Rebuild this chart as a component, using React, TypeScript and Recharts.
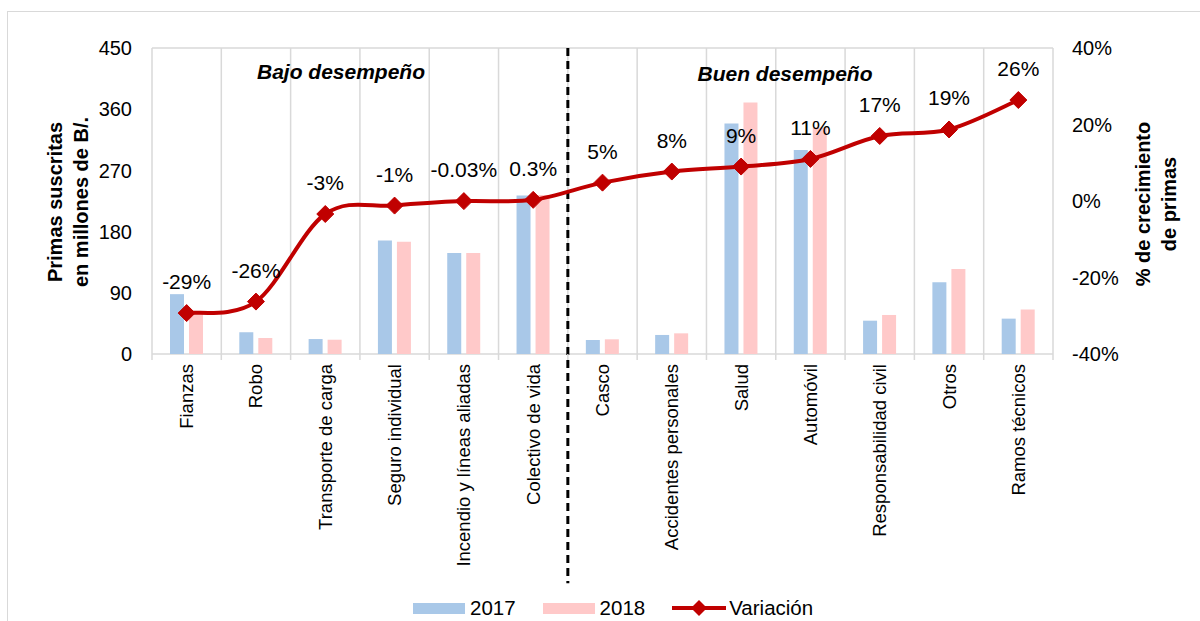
import React from "react";
import {
  ComposedChart,
  Bar,
  Line,
  XAxis,
  YAxis,
  CartesianGrid,
  ReferenceLine,
  LabelList,
} from "recharts";

const categories = [
  "Fianzas",
  "Robo",
  "Transporte de carga",
  "Seguro individual",
  "Incendio y líneas aliadas",
  "Colectivo de vida",
  "Casco",
  "Accidentes personales",
  "Salud",
  "Automóvil",
  "Responsabilidad civil",
  "Otros",
  "Ramos técnicos",
];
const primas2017 = [88, 32, 22, 167, 148.5, 233, 20.6, 28, 339, 300, 49, 105.5, 52];
const primas2018 = [63, 23.5, 21, 165, 148.5, 233.7, 21.6, 30.4, 370, 333, 57.4, 125, 65.5];
const variacion = [-29.3, -26.3, -3.4, -1.2, -0.03, 0.3, 4.8, 7.7, 9.0, 11.0, 17.0, 18.7, 26.4];
const variacionLabels = ["-29%", "-26%", "-3%", "-1%", "-0.03%", "0.3%", "5%", "8%", "9%", "11%", "17%", "19%", "26%"];
const leftTicks = [0, 90, 180, 270, 360, 450];
const rightTicks = [-40, -20, 0, 20, 40];
const groupLabels = ["Bajo desempeño", "Buen desempeño"];
const firstGoodCategory = "Casco";

const data = categories.map((c, i) => ({
  cat: c,
  y2017: primas2017[i],
  y2018: primas2018[i],
  v: variacion[i],
  label: variacionLabels[i],
}));

const W = 1200;
const H = 621;
const MARGIN = { top: 48, right: 87, left: 92, bottom: 37 };
const YW = 60;
const PLOT_W = W - MARGIN.left - MARGIN.right - 2 * YW;
const BAND = PLOT_W / categories.length;
const FONT = "'Liberation Sans', Arial, sans-serif";
const BLUE = "#A9C8E8";
const PINK = "#FFC9C9";
const RED = "#C00000";
const GRID = "#D9D9D9";

function excelSmooth(context: any) {
  let pts: number[][] = [];
  return {
    areaStart() {},
    areaEnd() {},
    lineStart() {
      pts = [];
    },
    point(x: number, y: number) {
      pts.push([+x, +y]);
    },
    lineEnd() {
      const n = pts.length;
      if (!n) return;
      context.moveTo(pts[0][0], pts[0][1]);
      const t = 1 / 6;
      for (let i = 0; i < n - 1; i++) {
        const p0 = pts[Math.max(i - 1, 0)];
        const p1 = pts[i];
        const p2 = pts[i + 1];
        const p3 = pts[Math.min(i + 2, n - 1)];
        context.bezierCurveTo(
          p1[0] + (p2[0] - p0[0]) * t,
          p1[1] + (p2[1] - p0[1]) * t,
          p2[0] - (p3[0] - p1[0]) * t,
          p2[1] - (p3[1] - p1[1]) * t,
          p2[0],
          p2[1]
        );
      }
    },
  };
}

const Diamond = (props: any) => {
  const { cx, cy, index } = props;
  if (cx == null || cy == null) return <g key={index} />;
  const r = 8.5;
  return (
    <path
      key={index}
      d={`M${cx},${cy - r}L${cx + r},${cy}L${cx},${cy + r}L${cx - r},${cy}Z`}
      fill={RED}
      stroke={RED}
    />
  );
};

const CatTick = (props: any) => {
  const { x, y, payload, index } = props;
  const isLast = index === categories.length - 1;
  return (
    <g>
      <line x1={x - BAND / 2} x2={x - BAND / 2} y1={y} y2={y + 6} stroke={GRID} strokeWidth={1.5} />
      {isLast && (
        <line x1={x + BAND / 2} x2={x + BAND / 2} y1={y} y2={y + 6} stroke={GRID} strokeWidth={1.5} />
      )}
      <text
        x={x}
        y={y + 10}
        transform={`rotate(-90, ${x}, ${y + 10})`}
        textAnchor="end"
        dominantBaseline="central"
        fontSize={18.5}
        fill="#000"
      >
        {payload.value}
      </text>
    </g>
  );
};

const PointLabel = (props: any) => {
  const { x, y, value } = props;
  return (
    <text x={x} y={y - 24} textAnchor="middle" fontSize={21} fill="#000">
      {value}
    </text>
  );
};

const rotatedTitle = (cx: number, cy: number, lines: string[]) => (
  <div
    style={{
      position: "absolute",
      left: cx,
      top: cy,
      transform: "translate(-50%, -50%) rotate(-90deg)",
      fontWeight: "bold",
      fontSize: 20,
      lineHeight: "26px",
      textAlign: "center",
      whiteSpace: "nowrap",
      color: "#000",
    }}
  >
    {lines.map((l, i) => (
      <div key={i}>{l}</div>
    ))}
  </div>
);

export default function App() {
  return (
    <div
      style={{
        position: "absolute",
        left: 0,
        top: 0,
        width: W,
        height: H,
        overflow: "hidden",
        background: "#fff",
        fontFamily: FONT,
      }}
    >
      <div
        style={{
          position: "absolute",
          left: 7,
          top: 11,
          width: W,
          height: H + 20,
          border: `1px solid ${GRID}`,
        }}
      />
      <ComposedChart width={W} height={H} data={data} margin={MARGIN} barGap={5}>
        <CartesianGrid
          stroke={GRID}
          strokeWidth={1.5}
          verticalCoordinatesGenerator={({ offset }: any) =>
            categories.map((_, i) => offset.left + i * (offset.width / categories.length)).concat([
              offset.left + offset.width,
            ])
          }
        />
        <XAxis
          dataKey="cat"
          height={230}
          interval={0}
          axisLine={false}
          tickLine={false}
          tickSize={0}
          tickMargin={0}
          tick={<CatTick />}
        />
        <YAxis
          yAxisId="left"
          width={YW}
          domain={[0, 450]}
          ticks={leftTicks}
          axisLine={false}
          tickLine={false}
          tickSize={0}
          tickMargin={20}
          tick={{ fontSize: 20, fill: "#000" }}
        />
        <YAxis
          yAxisId="right"
          orientation="right"
          width={YW}
          domain={[-40, 40]}
          ticks={rightTicks}
          axisLine={false}
          tickLine={false}
          tickSize={0}
          tickMargin={19}
          tickFormatter={(v: number) => `${v}%`}
          tick={{ fontSize: 20, fill: "#000", textAnchor: "start" }}
        />
        <Bar yAxisId="left" dataKey="y2017" name="2017" fill={BLUE} barSize={14} isAnimationActive={false} />
        <Bar yAxisId="left" dataKey="y2018" name="2018" fill={PINK} barSize={14} isAnimationActive={false} />
        <ReferenceLine
          yAxisId="left"
          segment={[
            { x: firstGoodCategory, y: 450 },
            { x: firstGoodCategory, y: -337 },
          ]}
          position="start"
          ifOverflow="visible"
          stroke="#000"
          strokeWidth={3}
          strokeDasharray="8 5"
        />
        <Line
          yAxisId="right"
          dataKey="v"
          name="Variación"
          type={excelSmooth as any}
          stroke={RED}
          strokeWidth={4}
          dot={Diamond}
          activeDot={false}
          isAnimationActive={false}
        >
          <LabelList dataKey="label" content={PointLabel} />
        </Line>
      </ComposedChart>

      <div
        style={{
          position: "absolute",
          left: 341,
          top: 72,
          transform: "translate(-50%, -50%)",
          fontSize: 21,
          fontWeight: "bold",
          fontStyle: "italic",
          whiteSpace: "nowrap",
        }}
      >
        {groupLabels[0]}
      </div>
      <div
        style={{
          position: "absolute",
          left: 785,
          top: 74,
          transform: "translate(-50%, -50%)",
          fontSize: 21,
          fontWeight: "bold",
          fontStyle: "italic",
          whiteSpace: "nowrap",
        }}
      >
        {groupLabels[1]}
      </div>

      {rotatedTitle(68, 202, ["Primas suscritas", "en millones de B/."])}
      {rotatedTitle(1156, 204, ["% de crecimiento", "de primas"])}

      <div
        style={{
          position: "absolute",
          left: 413,
          top: 596,
          height: 24,
          display: "flex",
          alignItems: "center",
          fontSize: 20.5,
          color: "#000",
          whiteSpace: "nowrap",
        }}
      >
        <div style={{ width: 52, height: 11, background: BLUE }} />
        <span style={{ marginLeft: 5 }}>2017</span>
        <div style={{ width: 52, height: 11, background: PINK, marginLeft: 27 }} />
        <span style={{ marginLeft: 5 }}>2018</span>
        <svg width={56} height={20} style={{ marginLeft: 26 }}>
          <line x1={1} x2={55} y1={10} y2={10} stroke={RED} strokeWidth={4} />
          <path d="M28,2L36,10L28,18L20,10Z" fill={RED} />
        </svg>
        <span style={{ marginLeft: 2 }}>Variación</span>
      </div>
    </div>
  );
}
